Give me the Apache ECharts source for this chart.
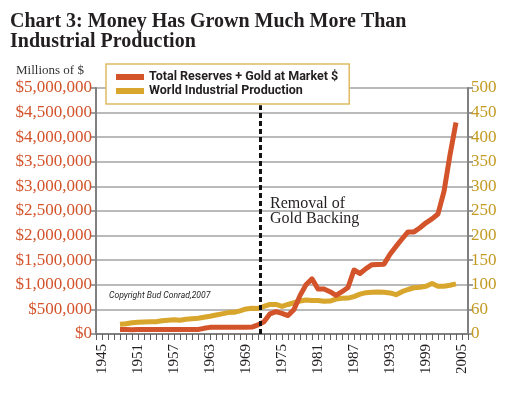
<!DOCTYPE html>
<html>
<head>
<meta charset="utf-8">
<script src="https://cdn.jsdelivr.net/npm/echarts@6/dist/echarts.min.js"></script>
<style>
  html, body { margin: 0; padding: 0; background: #ffffff; }
  #chart { width: 513px; height: 394px; }
</style>
</head>
<body>
<div id="chart"></div>
<script>
// ---- data ----
const years = [1948,1949,1950,1951,1952,1953,1954,1955,1956,1957,1958,1959,1960,1961,1962,1963,1964,1965,1966,1967,1968,1969,1970,1971,1972,1973,1974,1975,1976,1977,1978,1979,1980,1981,1982,1983,1984,1985,1986,1987,1988,1989,1990,1991,1992,1993,1994,1995,1996,1997,1998,1999,2000,2001,2002,2003,2004];
// Total Reserves + Gold at Market $ (millions of $)
const reserves = [90000,90000,88000,90000,90000,90000,90000,90000,90000,90000,90000,90000,90000,92000,115000,135000,135000,135000,135000,135000,135000,135000,140000,185000,250000,410000,455000,420000,375000,500000,780000,1000000,1120000,915000,915000,860000,785000,860000,945000,1300000,1230000,1330000,1410000,1415000,1420000,1620000,1780000,1930000,2075000,2075000,2160000,2260000,2340000,2440000,2900000,3640000,4300000];
// World Industrial Production (index)
const production = [20,21,23,24,24.5,25,25,27,28,29,28,30,31,32,34,36,38.5,41,43.5,44,47,51,52.5,52,56,60,60,56,60,63.5,67,69,68,68,66.5,67,71,72.5,73,76,81,84,85,85.5,85,83.5,80,86,90.5,94,95,97,102.5,97,97,99,102];
const seriesNames = ['Total Reserves + Gold at Market $', 'World Industrial Production'];
const xLabelYears = [1945,1951,1957,1963,1969,1975,1981,1987,1993,1999,2005];
const leftTickLabels = ['$0','$500,000','$1,000,000','$1,500,000','$2,000,000','$2,500,000','$3,000,000','$3,500,000','$4,000,000','$4,500,000','$5,000,000'];
const rightTickLabels = ['0','60','100','150','200','250','300','350','400','450','500'];
const goldRemovalYear = 1971.3;
const goldLineTop = 4650000;

const ORANGE = '#d3532a';
const GOLD = '#d8a62c';
const SERIF = '"Liberation Serif", "DejaVu Serif", serif';
const SANS = 'Roboto, "Liberation Sans", sans-serif';

const chart = echarts.init(document.getElementById('chart'), null, { renderer: 'canvas' });

const option = {
  animation: false,
  backgroundColor: '#ffffff',
  title: {
    text: 'Chart 3: Money Has Grown Much More Than\nIndustrial Production',
    left: 10, top: 12, padding: 0,
    textStyle: { fontFamily: SERIF, fontSize: 20, lineHeight: 20, fontWeight: 'bold', color: '#231f20' }
  },
  legend: {
    orient: 'vertical',
    left: 106, top: 64,
    padding: [6, 11, 6, 10],
    backgroundColor: '#ffffff',
    borderColor: '#dfbc63',
    borderWidth: 1.5,
    itemWidth: 28, itemHeight: 6, itemGap: 0,
    icon: 'rect',
    textStyle: { fontFamily: SANS, fontSize: 12.5, fontWeight: 'bold', color: '#231f20', lineHeight: 14 },
    data: seriesNames
  },
  grid: { left: 96, right: 45, top: 88, bottom: 60, containLabel: false },
  xAxis: {
    type: 'value', min: 1944, max: 2006, interval: 1,
    axisLine: { show: true, lineStyle: { color: '#808080', width: 2 } },
    axisTick: { show: true, length: 6, lineStyle: { color: '#606060', width: 1 } },
    splitLine: { show: false },
    axisLabel: {
      rotate: 90, margin: 10, fontFamily: SERIF, fontSize: 15, color: '#231f20',
      formatter: v => xLabelYears.indexOf(v) >= 0 ? String(v) : ''
    }
  },
  yAxis: [
    {
      type: 'value', min: 0, max: 5000000, interval: 500000, position: 'left',
      axisLine: { show: true, lineStyle: { color: '#808080', width: 2 } },
      axisTick: { show: true, length: 6, lineStyle: { color: '#808080', width: 1.5 } },
      splitLine: { show: true, lineStyle: { color: '#a3a3a3', width: 1.5 } },
      axisLabel: {
        margin: 4, fontFamily: SERIF, fontSize: 17, color: ORANGE,
        formatter: v => leftTickLabels[Math.round(v / 500000)]
      }
    },
    {
      type: 'value', min: 0, max: 500, interval: 50, position: 'right',
      axisLine: { show: true, lineStyle: { color: '#808080', width: 2 } },
      axisTick: { show: true, length: 5, lineStyle: { color: '#808080', width: 1.5 } },
      splitLine: { show: false },
      axisLabel: {
        margin: 3, fontFamily: SERIF, fontSize: 17, color: '#c39a22',
        formatter: v => rightTickLabels[Math.round(v / 50)]
      }
    }
  ],
  series: [
    {
      name: seriesNames[0], type: 'line', yAxisIndex: 0, z: 4,
      showSymbol: false, symbol: 'none',
      data: years.map((y, i) => [y, reserves[i]]),
      lineStyle: { color: ORANGE, width: 5, join: 'round' },
      itemStyle: { color: ORANGE },
      markLine: {
        silent: true, symbol: 'none',
        label: { show: false },
        lineStyle: { color: '#111111', width: 3, type: [5, 3] },
        data: [[{ coord: [goldRemovalYear, 0] }, { coord: [goldRemovalYear, goldLineTop] }]]
      }
    },
    {
      name: seriesNames[1], type: 'line', yAxisIndex: 1, z: 3,
      showSymbol: false, symbol: 'none',
      data: years.map((y, i) => [y, production[i]]),
      lineStyle: { color: GOLD, width: 5, join: 'round' },
      itemStyle: { color: GOLD }
    }
  ],
  graphic: [
    {
      type: 'text', left: 16, top: 64,
      style: { text: 'Millions of $', font: '13px ' + SERIF, fill: '#333333' }
    },
    {
      type: 'text', left: 270, top: 196,
      style: { text: 'Removal of\nGold Backing', font: '16px ' + SERIF, lineHeight: 15, fill: '#231f20' }
    },
    {
      type: 'text', left: 109, top: 291,
      style: { text: 'Copyright Bud Conrad,2007', font: 'italic 8.6px ' + SANS, fill: '#231f20' }
    }
  ]
};
chart.setOption(option);
</script>
</body>
</html>
